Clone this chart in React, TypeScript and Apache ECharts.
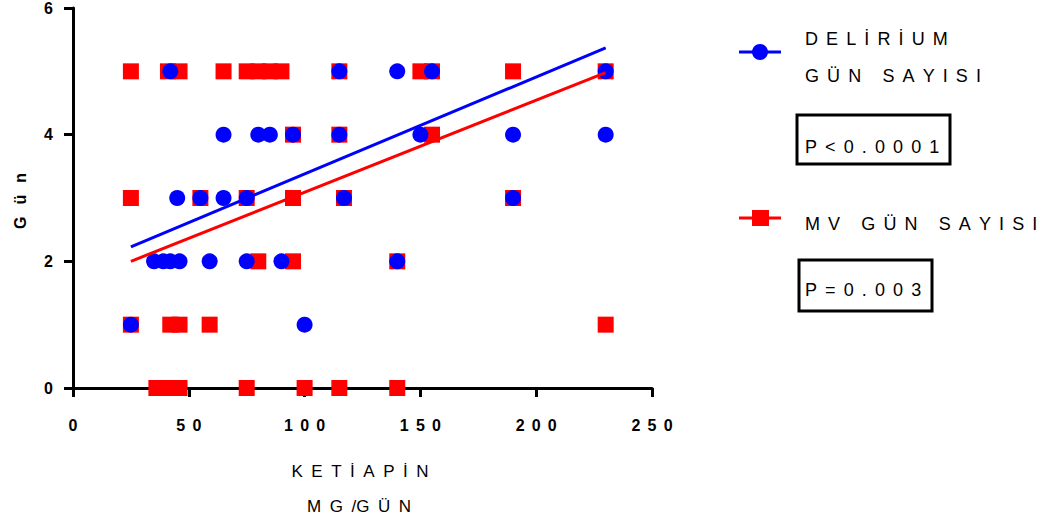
import React, { useEffect, useRef } from "react";
import * as echarts from "echarts";

// Delirium day count (blue circles)
const deliriumDose = [25, 35, 39, 42, 46, 42, 45, 55, 59, 65, 65, 75, 75, 80, 85, 90, 95, 100, 115, 115, 117, 140, 140, 150, 155, 190, 190, 230, 230];
const deliriumDays = [1, 2, 2, 2, 2, 5, 3, 3, 2, 3, 4, 3, 2, 4, 4, 2, 4, 1, 5, 4, 3, 5, 2, 4, 5, 4, 3, 5, 4];

// MV day count (red squares)
const mvDose = [25, 41, 46, 65, 75, 80, 85, 90, 115, 150, 155, 190, 230, 95, 115, 155, 25, 55, 75, 95, 117, 190, 80, 95, 140, 25, 42, 46, 59, 230, 36, 39, 43, 46, 75, 100, 115, 140];
const mvDays = [5, 5, 5, 5, 5, 5, 5, 5, 5, 5, 5, 5, 5, 4, 4, 4, 3, 3, 3, 3, 3, 3, 2, 2, 2, 1, 1, 1, 1, 1, 0, 0, 0, 0, 0, 0, 0, 0];

// Regression line end points
const deliriumFitX = [25, 230];
const deliriumFitY = [2.23, 5.37];
const mvFitX = [25, 230];
const mvFitY = [2.0, 4.98];

const xTicks = { min: 0, max: 250, interval: 50 };
const yTicks = { min: 0, max: 6, interval: 2 };

const xTitle1 = "KETİAPİN";
const xTitle2 = "MG/GÜN";
const yTitle = "Gün";
const legend1a = "DELİRİUM";
const legend1b = "GÜN SAYISI";
const legend2 = "MV GÜN SAYISI";
const pText1 = "P<0.0001";
const pText2 = "P=0.003";

const FONT = "'Liberation Sans', Arial, Helvetica, sans-serif";

function spaced(s: string, gap: string): string {
  return s
    .split(" ")
    .map((w) => Array.from(w).join(gap))
    .join(gap + " " + gap);
}

const zip = (xs: number[], ys: number[]) => xs.map((x, i) => [x, ys[i]]);

export default function App() {
  const ref = useRef<HTMLDivElement>(null);

  useEffect(() => {
    if (!ref.current) return;
    const chart = echarts.init(ref.current, undefined, { renderer: "svg" });
    const black = "#000000";
    const blue = "#0000ff";
    const red = "#ff0000";
    const legGap = "\u2005\u2009";

    chart.setOption({
      animation: false,
      backgroundColor: "#ffffff",
      grid: { left: 73, right: 1049 - 652, top: 8, bottom: 522 - 388, containLabel: false },
      xAxis: {
        type: "value",
        ...xTicks,
        axisLine: { show: true, onZero: false, lineStyle: { color: black, width: 3 } },
        axisTick: { show: true, length: 9, lineStyle: { color: black, width: 3 } },
        splitLine: { show: false },
        axisLabel: {
          color: black,
          fontSize: 16,
          fontWeight: "bold",
          fontFamily: FONT,
          margin: 29,
          formatter: (v: number) => spaced(String(v), "\u2005\u2009"),
        },
      },
      yAxis: {
        type: "value",
        ...yTicks,
        axisLine: { show: true, onZero: false, lineStyle: { color: black, width: 3 } },
        axisTick: { show: true, length: 9, lineStyle: { color: black, width: 3 } },
        splitLine: { show: false },
        axisLabel: {
          color: black,
          fontSize: 16,
          fontWeight: "bold",
          fontFamily: FONT,
          margin: 20,
          padding: [8, 0, 0, 0],
        },
      },
      series: [
        {
          name: legend2,
          type: "scatter",
          symbol: "rect",
          symbolSize: 16,
          itemStyle: { color: red, opacity: 1 },
          data: zip(mvDose, mvDays),
          z: 2,
        },
        {
          name: legend1a + " " + legend1b,
          type: "scatter",
          symbol: "circle",
          symbolSize: 16,
          itemStyle: { color: blue, opacity: 1 },
          data: zip(deliriumDose, deliriumDays),
          z: 3,
        },
        {
          name: "MV fit",
          type: "line",
          symbol: "none",
          lineStyle: { color: red, width: 3 },
          data: zip(mvFitX, mvFitY),
          z: 4,
        },
        {
          name: "Delirium fit",
          type: "line",
          symbol: "none",
          lineStyle: { color: blue, width: 3 },
          data: zip(deliriumFitX, deliriumFitY),
          z: 4,
        },
      ],
      graphic: [
        {
          type: "text",
          x: 360,
          y: 471,
          style: { text: spaced(xTitle1, "\u2002"), fill: black, font: `17px ${FONT}`, align: "center", verticalAlign: "middle" },
        },
        {
          type: "text",
          x: 359,
          y: 506,
          style: { text: "M\u2002G\u2002/G\u2002Ü\u2002N", fill: black, font: `17px ${FONT}`, align: "center", verticalAlign: "middle" },
        },
        {
          type: "text",
          x: 20,
          y: 201,
          rotation: Math.PI / 2,
          style: { text: spaced(yTitle, "\u2002\u2005"), fill: black, font: `bold 16px ${FONT}`, align: "center", verticalAlign: "middle" },
        },
        // legend 1
        { type: "line", shape: { x1: 739, y1: 52, x2: 781, y2: 52 }, style: { stroke: blue, lineWidth: 3 } },
        { type: "circle", shape: { cx: 760, cy: 52, r: 8 }, style: { fill: blue } },
        {
          type: "text",
          x: 805,
          y: 39,
          style: { text: spaced(legend1a, legGap), fill: black, font: `18px ${FONT}`, align: "left", verticalAlign: "middle" },
        },
        {
          type: "text",
          x: 805,
          y: 76,
          style: { text: spaced(legend1b, legGap), fill: black, font: `18px ${FONT}`, align: "left", verticalAlign: "middle" },
        },
        { type: "rect", shape: { x: 797, y: 115, width: 153, height: 49 }, style: { fill: "none", stroke: black, lineWidth: 3 } },
        {
          type: "text",
          x: 805,
          y: 147,
          style: { text: spaced(pText1, legGap), fill: black, font: `18px ${FONT}`, align: "left", verticalAlign: "middle" },
        },
        // legend 2
        { type: "line", shape: { x1: 739, y1: 218, x2: 781, y2: 218 }, style: { stroke: red, lineWidth: 3 } },
        { type: "rect", shape: { x: 752, y: 210, width: 17, height: 16 }, style: { fill: red } },
        {
          type: "text",
          x: 805,
          y: 224,
          style: { text: spaced(legend2, legGap), fill: black, font: `18px ${FONT}`, align: "left", verticalAlign: "middle" },
        },
        { type: "rect", shape: { x: 799, y: 260, width: 133, height: 51 }, style: { fill: "none", stroke: black, lineWidth: 3 } },
        {
          type: "text",
          x: 805,
          y: 290,
          style: { text: spaced(pText2, legGap), fill: black, font: `18px ${FONT}`, align: "left", verticalAlign: "middle" },
        },
      ],
    });
    return () => chart.dispose();
  }, []);

  return <div ref={ref} style={{ position: "absolute", left: 0, top: 0, width: 1049, height: 522 }} />;
}
